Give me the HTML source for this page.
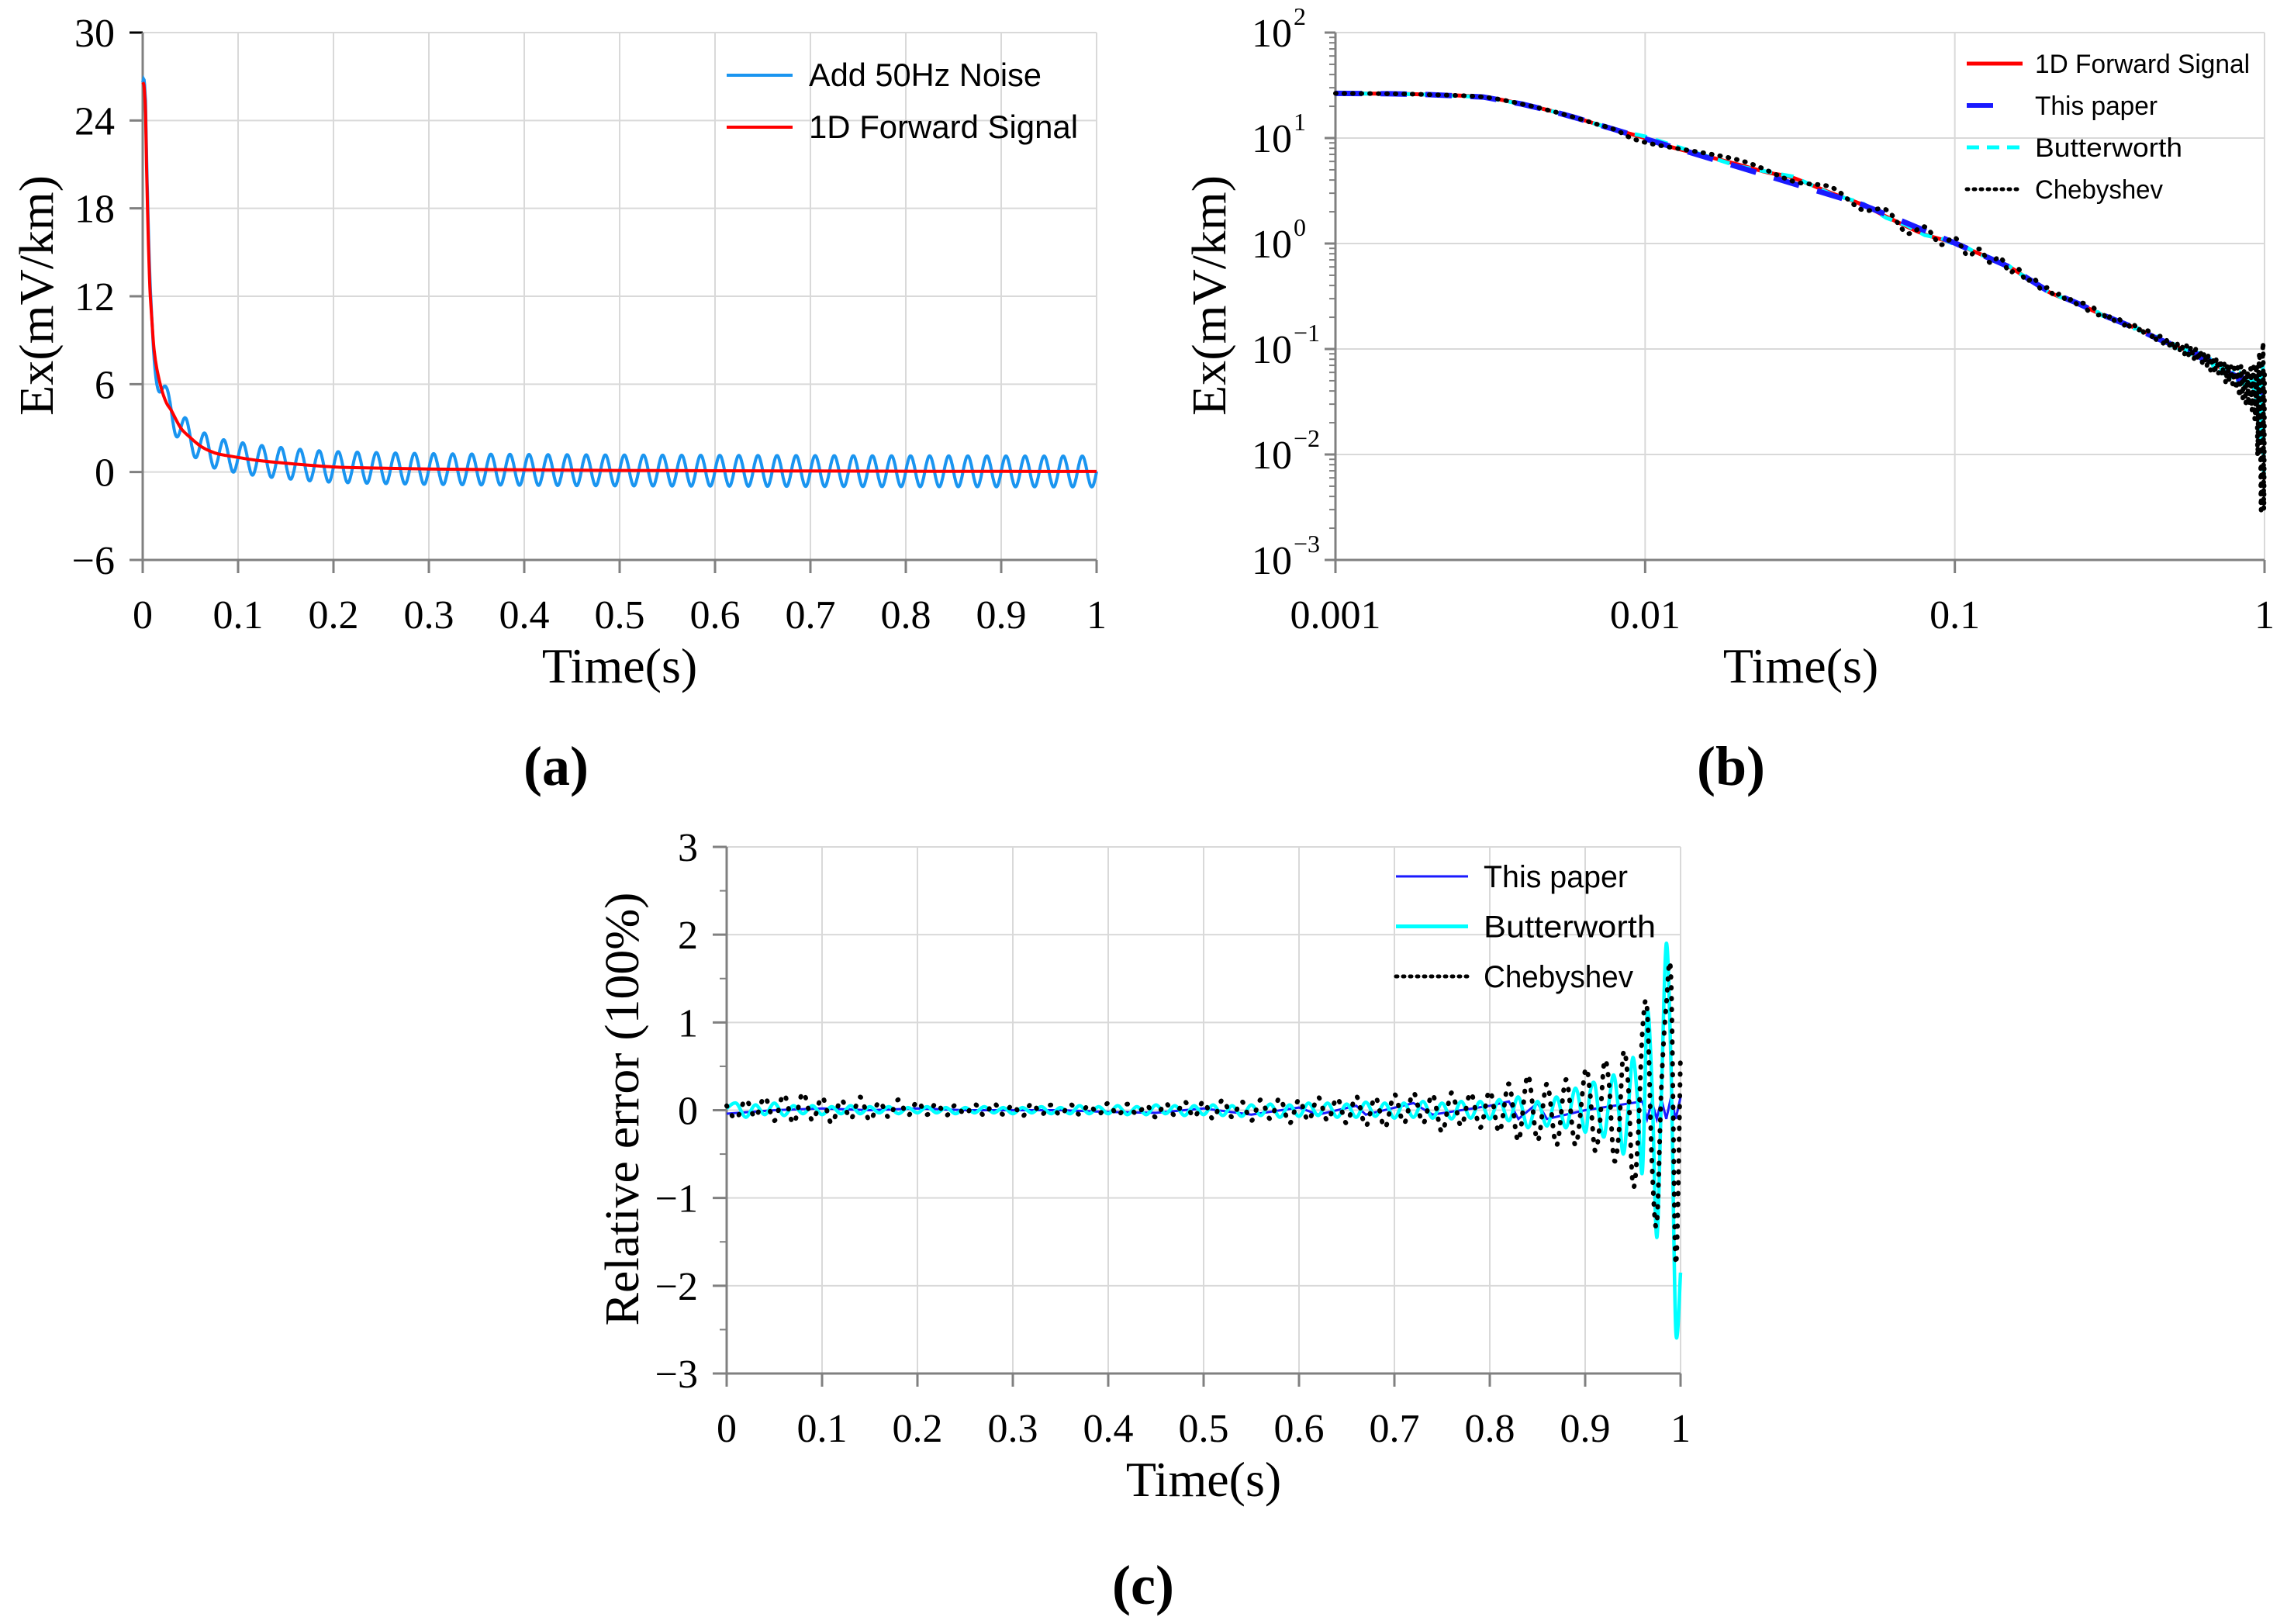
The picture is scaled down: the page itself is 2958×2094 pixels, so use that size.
<!DOCTYPE html>
<html><head><meta charset="utf-8"><style>
html,body{margin:0;padding:0;background:#fff;}
svg{display:block;}
</style></head><body>
<svg id="fig" width="2958" height="2094" viewBox="0 0 2958 2094" xmlns="http://www.w3.org/2000/svg">
<rect width="2958" height="2094" fill="#fff"/>
<g id="pa"></g>
<g id="pb"></g>
<g id="pc"></g>
</svg>
<script>
// ---------- data ----------
const sigTimes = [0,0.001,0.0015,0.002,0.003,0.004,0.005,0.006,0.007,0.008,0.01,0.012,0.015,0.02,0.025,0.03,0.04,0.05,0.06,0.07,0.08,0.1,0.12,0.15,0.2,0.25,0.3,0.4,0.5,0.6,0.7,0.8,0.9,0.95,1];
const sigValues = [26.6,26.5,26.3,25.8,24.5,21,18,15.5,13.5,12,10,8.3,7.0,5.6,4.7,4.2,3.0,2.35,1.8,1.45,1.22,1.0,0.8,0.6,0.35,0.27,0.21,0.15,0.11,0.09,0.07,0.055,0.045,0.042,0.038];
const noiseFreqHz = 50;
const noiseAmp = 1.05;
const aXTicks = ["0","0.1","0.2","0.3","0.4","0.5","0.6","0.7","0.8","0.9","1"];
const aYTicks = ["\u22126","0","6","12","18","24","30"];
const bXTicks = ["0.001","0.01","0.1","1"];
const bYExp = ["\u22123","\u22122","\u22121","0","1","2"];
const cYTicks = ["\u22123","\u22122","\u22121","0","1","2","3"];
const chebyErr = [
0.05,-0.10,0.12,-0.08,0.15,-0.12,0.18,-0.15,0.20,-0.12,
0.15,-0.15,0.12,-0.10,0.15,-0.12,0.10,-0.08,0.12,-0.06,
0.10,-0.05,0.08,-0.06,0.06,-0.05,0.07,-0.06,0.08,-0.05,
0.06,-0.07,0.08,-0.05,0.06,-0.06,0.07,-0.05,0.06,-0.05,
0.08,-0.06,0.07,-0.05,0.06,-0.08,0.08,-0.06,0.10,-0.08,
0.10,-0.10,0.12,-0.08,0.10,-0.12,0.12,-0.10,0.14,-0.15,
0.12,-0.12,0.15,-0.12,0.14,-0.15,0.16,-0.18,0.15,-0.20,
0.18,-0.15,0.20,-0.15,0.18,-0.25,0.20,-0.18,0.20,-0.20,
0.22,-0.25,0.30,-0.35,0.40,-0.35,0.30,-0.40,0.35,-0.40,
0.45,
0.20,-0.45,-0.20,0.55,0.30,-0.55,-0.30,0.65,0.30,-0.85,-0.40,0.90,1.15,-0.60,-1.30,0.30,1.20,1.50,-1.75,0.65];
const butterErr = [
0.02,0.08,-0.08,0.06,-0.05,0.08,-0.06,0.05,-0.04,0.05,
-0.05,0.04,-0.04,0.05,-0.04,0.04,-0.03,0.04,-0.04,0.03,
-0.03,0.04,-0.03,0.03,-0.04,0.03,-0.03,0.04,-0.03,0.03,
-0.04,0.03,-0.03,0.04,-0.04,0.03,-0.04,0.05,-0.04,0.04,
-0.04,0.05,-0.05,0.04,-0.05,0.06,-0.04,0.05,-0.06,0.05,
-0.05,0.06,-0.06,0.05,-0.07,0.06,-0.06,0.07,-0.08,0.06,
-0.07,0.08,-0.06,0.08,-0.08,0.07,-0.08,0.09,-0.07,0.08,
-0.09,0.08,-0.08,0.10,-0.09,0.08,-0.10,0.10,-0.09,0.10,
-0.10,0.12,-0.12,0.15,-0.20,0.10,-0.18,0.15,-0.20,0.25,
-0.25,
0.20,0.30,-0.10,-0.30,0.10,0.40,0.00,-0.50,0.00,0.60,0.10,-0.70,1.10,0.30,-1.45,0.20,1.90,0.50,-2.50,-1.85];
const paperTimes = [0,0.05,0.1,0.15,0.2,0.25,0.3,0.35,0.4,0.45,0.5,0.55,0.6,0.62,0.66,0.67,0.72,0.74,0.8,0.82,0.83,0.85,0.86,0.9,0.96,0.965,0.97,0.975,0.98,0.985,0.99,0.995,1];
const paperErr = [-0.04,0.0,0.02,0.0,0.02,0.0,0.0,0.0,-0.02,-0.03,0.02,-0.05,0.03,-0.05,0.05,-0.05,0.08,-0.05,0.05,0.1,-0.1,0.08,-0.1,0.0,0.1,-0.1,0.1,-0.1,0.12,-0.1,0.15,-0.1,0.15];

// ---------- helpers ----------
const NS="http://www.w3.org/2000/svg";
function mk(parent,tag,attrs,text){const e=document.createElementNS(NS,tag);for(const k in attrs)e.setAttribute(k,attrs[k]);if(text!==undefined)e.textContent=text;parent.appendChild(e);return e;}
const cTimes=[];for(let i=0;i<=90;i++)cTimes.push(i/100);for(let i=1;i<=20;i++)cTimes.push(0.9+i*0.005);
function sigAt(t){
  if(t<=sigTimes[1])return sigValues[0]+(sigValues[1]-sigValues[0])*(t/sigTimes[1]);
  for(let i=1;i<sigTimes.length-1;i++){if(t<=sigTimes[i+1]){const a=Math.log(sigTimes[i]),b=Math.log(sigTimes[i+1]);const f=(Math.log(t)-a)/(b-a);return Math.exp(Math.log(sigValues[i])+f*(Math.log(sigValues[i+1])-Math.log(sigValues[i])));}}
  return sigValues[sigValues.length-1];}
function linePath(pts){return pts.map((p,i)=>(i?'L':'M')+p[0].toFixed(1)+' '+p[1].toFixed(1)).join(' ');}
function smoothPath(p){let d='M'+p[0][0].toFixed(1)+' '+p[0][1].toFixed(1);for(let i=0;i<p.length-1;i++){const p0=p[Math.max(i-1,0)],p1=p[i],p2=p[i+1],p3=p[Math.min(i+2,p.length-1)];const c1=[p1[0]+(p2[0]-p0[0])/6,p1[1]+(p2[1]-p0[1])/6],c2=[p2[0]-(p3[0]-p1[0])/6,p2[1]-(p3[1]-p1[1])/6];d+=' C'+c1[0].toFixed(1)+' '+c1[1].toFixed(1)+' '+c2[0].toFixed(1)+' '+c2[1].toFixed(1)+' '+p2[0].toFixed(1)+' '+p2[1].toFixed(1);}return d;}
const GRID="#d9d9d9",AX="#808080",SERIF='"Liberation Serif", serif',SANS='"Liberation Sans", sans-serif';

// ---------- panel a ----------
(function(){
const g=document.getElementById('pa');
const L=184,R=1414,T=42,B=722;
const xa=t=>L+t*(R-L), ya=v=>B-(v+6)*(B-T)/36;
const grid=mk(g,'g',{});
aXTicks.forEach((s,i)=>{const x=xa(i/10);if(i>0)mk(grid,'line',{x1:x,y1:T,x2:x,y2:B,stroke:GRID,'stroke-width':2});
 mk(g,'line',{x1:x,y1:B,x2:x,y2:B+17,stroke:AX,'stroke-width':3});
 const t=mk(g,'text',{x:x,y:810,'font-family':SERIF,'font-size':52,'text-anchor':'middle'},s);});
aYTicks.forEach((s,i)=>{const y=ya(-6+6*i);if(i>0)mk(grid,'line',{x1:L,y1:y,x2:R,y2:y,stroke:GRID,'stroke-width':2});
 mk(g,'line',{x1:L-17,y1:y,x2:L,y2:y,stroke:i==6?'#000':AX,'stroke-width':3});
 const t=mk(g,'text',{x:148,y:y+18,'font-family':SERIF,'font-size':52,'text-anchor':'end'},s);});
mk(g,'line',{x1:L,y1:T,x2:L,y2:B,stroke:AX,'stroke-width':3});
mk(g,'line',{x1:L,y1:B,x2:R,y2:B,stroke:AX,'stroke-width':3});
const np=[];const N=4000;for(let i=0;i<=N;i++){const t=i/N;np.push([xa(t),ya(sigAt(t)+noiseAmp*Math.sin(2*Math.PI*noiseFreqHz*t))]);}
const pn=mk(g,'path',{d:linePath(np),fill:'none',stroke:'#1a95f0','stroke-width':4});

const sp=sigTimes.map((t,i)=>[xa(t),ya(sigValues[i])]);
const ps=mk(g,'path',{d:smoothPath(sp),fill:'none',stroke:'#ff0000','stroke-width':4});

const lg=mk(g,'g',{});
mk(lg,'line',{x1:937,y1:97,x2:1022,y2:97,stroke:'#1a95f0','stroke-width':4});
mk(lg,'text',{x:1043,y:111,'font-family':SANS,'font-size':42,textLength:300,lengthAdjust:'spacingAndGlyphs'},'Add 50Hz Noise');
mk(lg,'line',{x1:937,y1:164,x2:1022,y2:164,stroke:'#ff0000','stroke-width':4});
mk(lg,'text',{x:1043,y:178,'font-family':SANS,'font-size':42,textLength:347,lengthAdjust:'spacingAndGlyphs'},'1D Forward Signal');
const xt=mk(g,'text',{x:799,y:880,'font-family':SERIF,'font-size':64,'text-anchor':'middle'},'Time(s)');
const yt=mk(g,'text',{x:0,y:0,transform:'translate(68,381) rotate(-90)','font-family':SERIF,'font-size':62,'text-anchor':'middle',textLength:310,lengthAdjust:'spacingAndGlyphs'},'Ex(mV/km)');
const lb=mk(g,'text',{x:717,y:1012,'font-family':SERIF,'font-size':72,'font-weight':'bold','text-anchor':'middle'},'(a)');
})();

// ---------- panel b ----------
(function(){
const g=document.getElementById('pb');
const L=1722,R=2920,T=42,B=722;
const xb=t=>L+(Math.log10(t)+3)*(R-L)/3, yb=v=>B-(Math.log10(Math.max(v,1e-3))+3)*(B-T)/5;
const grid=mk(g,'g',{});
bXTicks.forEach((s,i)=>{const x=L+i*(R-L)/3;if(i>0)mk(grid,'line',{x1:x,y1:T,x2:x,y2:B,stroke:GRID,'stroke-width':2});
 mk(g,'line',{x1:x,y1:B,x2:x,y2:B+17,stroke:AX,'stroke-width':3});
 const t=mk(g,'text',{x:x,y:810,'font-family':SERIF,'font-size':52,'text-anchor':'middle'},s);});
bYExp.forEach((s,i)=>{const y=B-i*(B-T)/5;if(i>0)mk(grid,'line',{x1:L,y1:y,x2:R,y2:y,stroke:GRID,'stroke-width':2});
 mk(g,'line',{x1:L-14,y1:y,x2:L,y2:y,stroke:AX,'stroke-width':3});
 if(i<5)for(let m=2;m<=9;m++){const yy=y-Math.log10(m)*(B-T)/5;mk(g,'line',{x1:L-8,y1:yy,x2:L,y2:yy,stroke:AX,'stroke-width':2});}
 const t=mk(g,'text',{x:1666,y:y+18,'font-family':SERIF,'font-size':52,'text-anchor':'end'},'10');
 mk(g,'text',{x:1668,y:y-10,'font-family':SERIF,'font-size':32,'text-anchor':'start'},s);});
mk(g,'line',{x1:L,y1:T,x2:L,y2:B,stroke:AX,'stroke-width':3});
mk(g,'line',{x1:L,y1:B,x2:R,y2:B,stroke:AX,'stroke-width':3});
const st=sigTimes.slice(1),sv=sigValues.slice(1);
const ps=mk(g,'path',{d:smoothPath(st.map((t,i)=>[xb(t),yb(sv[i])])),fill:'none',stroke:'#ff0000','stroke-width':5});

function filt(err,times,k,minv){const pts=[];st.forEach((t,i)=>{if(t<0.01)pts.push([xb(t),yb(sv[i])]);});
 times.forEach((t,i)=>{if(t>=0.01&&i<err.length)pts.push([xb(t),yb(Math.max(sigAt(t)*(1+err[i]*k),minv))]);});return pts;}
const pc=mk(g,'path',{d:linePath(filt(butterErr,cTimes,0.45,0.006)),fill:'none',stroke:'#00ffff','stroke-width':5,'stroke-dasharray':'16 12'});

const pp=mk(g,'path',{d:linePath(filt(paperErr,paperTimes,0.5,0.02)),fill:'none',stroke:'#1a1aff','stroke-width':7,'stroke-dasharray':'34 24'});

const pk=mk(g,'path',{d:smoothPath(filt(chebyErr,cTimes,0.9,0.003)),fill:'none',stroke:'#000','stroke-width':6,'stroke-dasharray':'1 10','stroke-linecap':'round'});

const lg=mk(g,'g',{});
const items=[['1D Forward Signal','#ff0000','none',5,277],['This paper','#1a1aff','34 200',6,158],['Butterworth','#00ffff','16 10',5,190],['Chebyshev','#000','2 7',5,165]];
items.forEach((it,i)=>{const y=82+i*54;mk(lg,'line',{x1:2536,y1:y,x2:2608,y2:y,stroke:it[1],'stroke-width':it[3],'stroke-dasharray':it[2],'stroke-linecap':i==3?'round':'butt'});
 mk(lg,'text',{x:2624,y:y+12,'font-family':SANS,'font-size':34,textLength:it[4],lengthAdjust:'spacingAndGlyphs'},it[0]);});
const xt=mk(g,'text',{x:2322,y:880,'font-family':SERIF,'font-size':64,'text-anchor':'middle'},'Time(s)');
const yt=mk(g,'text',{x:0,y:0,transform:'translate(1580,381) rotate(-90)','font-family':SERIF,'font-size':62,'text-anchor':'middle',textLength:310,lengthAdjust:'spacingAndGlyphs'},'Ex(mV/km)');
const lb=mk(g,'text',{x:2232,y:1012,'font-family':SERIF,'font-size':72,'font-weight':'bold','text-anchor':'middle'},'(b)');
})();

// ---------- panel c ----------
(function(){
const g=document.getElementById('pc');
const L=937,R=2167,T=1092,B=1771;
const xc=t=>L+t*(R-L), yc=v=>B-(v+3)*(B-T)/6;
const grid=mk(g,'g',{});
aXTicks.forEach((s,i)=>{const x=xc(i/10);if(i>0)mk(grid,'line',{x1:x,y1:T,x2:x,y2:B,stroke:GRID,'stroke-width':2});
 mk(g,'line',{x1:x,y1:B,x2:x,y2:B+17,stroke:AX,'stroke-width':3});
 const t=mk(g,'text',{x:x,y:1859,'font-family':SERIF,'font-size':52,'text-anchor':'middle'},s);});
cYTicks.forEach((s,i)=>{const y=yc(-3+i);if(i>0)mk(grid,'line',{x1:L,y1:y,x2:R,y2:y,stroke:GRID,'stroke-width':2});
 mk(g,'line',{x1:L-18,y1:y,x2:L,y2:y,stroke:AX,'stroke-width':3});
 if(i<6)mk(g,'line',{x1:L-9,y1:yc(-2.5+i),x2:L,y2:yc(-2.5+i),stroke:AX,'stroke-width':2});
 const t=mk(g,'text',{x:900,y:y+18,'font-family':SERIF,'font-size':52,'text-anchor':'end'},s);});
mk(g,'line',{x1:L,y1:T,x2:L,y2:B,stroke:AX,'stroke-width':3});
mk(g,'line',{x1:L,y1:B,x2:R,y2:B,stroke:AX,'stroke-width':3});
const pp=mk(g,'path',{d:linePath(paperTimes.map((t,i)=>[xc(t),yc(paperErr[i])])),fill:'none',stroke:'#1a1aff','stroke-width':3});

const n=Math.min(cTimes.length,butterErr.length);
const bp=[];for(let i=0;i<n;i++)bp.push([xc(cTimes[i]),yc(butterErr[i])]);
const pb=mk(g,'path',{d:smoothPath(bp),fill:'none',stroke:'#00ffff','stroke-width':4.5});

const m=Math.min(cTimes.length,chebyErr.length);
const kp=[];for(let i=0;i<m;i++)kp.push([xc(cTimes[i]),yc(chebyErr[i])]);
const pk=mk(g,'path',{d:smoothPath(kp),fill:'none',stroke:'#000','stroke-width':6,'stroke-dasharray':'1 13','stroke-linecap':'round'});

const lg=mk(g,'g',{});
const items=[['This paper','#1a1aff','none',3,186],['Butterworth','#00ffff','none',5,222],['Chebyshev','#000','2 7',5,193]];
items.forEach((it,i)=>{const y=1130+i*64.5;mk(lg,'line',{x1:1800,y1:y,x2:1893,y2:y,stroke:it[1],'stroke-width':it[3],'stroke-dasharray':it[2],'stroke-linecap':i==2?'round':'butt'});
 mk(lg,'text',{x:1913,y:y+14,'font-family':SANS,'font-size':40,textLength:it[4],lengthAdjust:'spacingAndGlyphs'},it[0]);});
const xt=mk(g,'text',{x:1552,y:1929,'font-family':SERIF,'font-size':64,'text-anchor':'middle'},'Time(s)');
const yt=mk(g,'text',{x:0,y:0,transform:'translate(823,1430) rotate(-90)','font-family':SERIF,'font-size':62,'text-anchor':'middle',textLength:559,lengthAdjust:'spacingAndGlyphs'},'Relative error (100%)');
const lb=mk(g,'text',{x:1474,y:2068,'font-family':SERIF,'font-size':72,'font-weight':'bold','text-anchor':'middle'},'(c)');
})();
</script>
</body></html>
